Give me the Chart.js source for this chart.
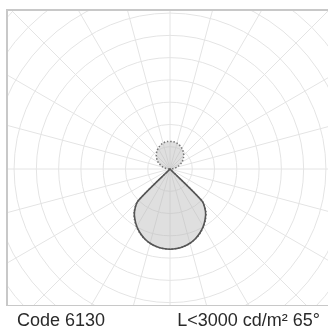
<!DOCTYPE html>
<html>
<head>
<meta charset="utf-8">
<script src="https://cdn.jsdelivr.net/npm/chart.js@4"></script>
<style>
  body { margin: 0; background: #fff; width: 328px; height: 332px; overflow: hidden; position: relative; }
  #clip { position: absolute; left: 7px; top: 10px; width: 325px; height: 295px; overflow: hidden; }
  #wrap { position: absolute; left: -82px; top: -86px; width: 490px; height: 490px; }
  .ln { position: absolute; background: #c8c8c8; }
  .txt { position: absolute; top: 310px; font: 18px "Liberation Sans", Arial, sans-serif; line-height: 20px; color: #2a2a2a; white-space: nowrap; }
</style>
</head>
<body>
<div id="clip"><div id="wrap"><canvas id="polar"></canvas></div></div>
<div class="ln" style="left:6px;top:9px;width:330px;height:1.5px"></div>
<div class="ln" style="left:6px;top:9px;width:1.5px;height:297px"></div>
<div class="ln" style="left:6px;top:304.5px;width:330px;height:1.5px"></div>
<div class="txt" style="left:17px">Code 6130</div>
<div class="txt" style="right:8px">L&lt;3000 cd/m² 65°</div>
<script>
// angles in degrees, 0° = straight down, step 5°
const angles = [0,5,10,15,20,25,30,35,40,45,50,55,60,65,70,75,80,85,90,95,100,105,110,115,
  120,125,130,135,140,145,150,155,160,165,170,175,180,185,190,195,200,205,210,215,220,225,
  230,235,240,245,250,255,260,265,270,275,280,285,290,295,300,305,310,315,320,325,330,335,340,345,350,355];

// intensity in ring units (one ring per grid circle)
const planeC0 = [3.60,3.58,3.53,3.45,3.33,3.17,2.98,2.75,2.48,2.02,0,0,0,0,0,0,0,0,0,0,0,0,0,0,
  0,0,0,0,0,0,0,0,0,0,0,0,0,0,0,0,0,0,0,0,0,0,
  0,0,0,0,0,0,0,0,0,0,0,0,0,0,0,0,0,2.02,2.48,2.75,2.98,3.17,3.33,3.45,3.53,3.58];

const planeC90 = [3.60,3.58,3.54,3.46,3.34,3.19,3.00,2.78,2.51,2.05,0,0,0,0,0,0,0,0,0,0.11,0.21,0.32,0.42,0.52,
  0.62,0.71,0.79,0.87,0.94,1.01,1.07,1.12,1.17,1.20,1.23,1.24,1.24,1.24,1.23,1.20,1.17,1.12,1.07,1.01,0.94,0.87,
  0.79,0.71,0.62,0.52,0.42,0.32,0.21,0.11,0,0,0,0,0,0,0,0,0,2.05,2.51,2.78,3.00,3.19,3.34,3.46,3.54,3.58];

const rings = 11;

document.addEventListener('DOMContentLoaded', () => {
  const ctx = document.getElementById('polar').getContext('2d');
  new Chart(ctx, {
    type: 'radar',
    data: {
      labels: angles.map(a => a + '°'),
      datasets: [{
        label: 'C0-C180',
        data: planeC0,
        borderColor: '#555555',
        borderWidth: 1.6,
        fill: false,
        pointRadius: 0
      }, {
        label: 'C90-C270',
        data: planeC90,
        borderColor: '#777777',
        borderWidth: 1.5,
        borderDash: [1.5, 1.8],
        backgroundColor: 'rgba(185,185,185,0.45)',
        fill: true,
        pointRadius: 0
      }]
    },
    options: {
      responsive: true,
      maintainAspectRatio: false,
      animation: false,
      layout: { padding: 0 },
      elements: { line: { tension: 0.25 } },
      scales: {
        r: {
          min: 0,
          max: rings,
          startAngle: 180,
          ticks: { stepSize: 1, display: false },
          pointLabels: { display: false },
          grid: { circular: true, color: '#e4e4e4', lineWidth: 1 },
          angleLines: {
            color: c => (c.index % 3 === 0 ? '#e4e4e4' : 'rgba(0,0,0,0)'),
            lineWidth: c => (c.index % 3 === 0 ? 1 : 0)
          }
        }
      },
      plugins: {
        legend: { display: false },
        tooltip: { enabled: false }
      }
    }
  });
});
</script>
</body>
</html>
